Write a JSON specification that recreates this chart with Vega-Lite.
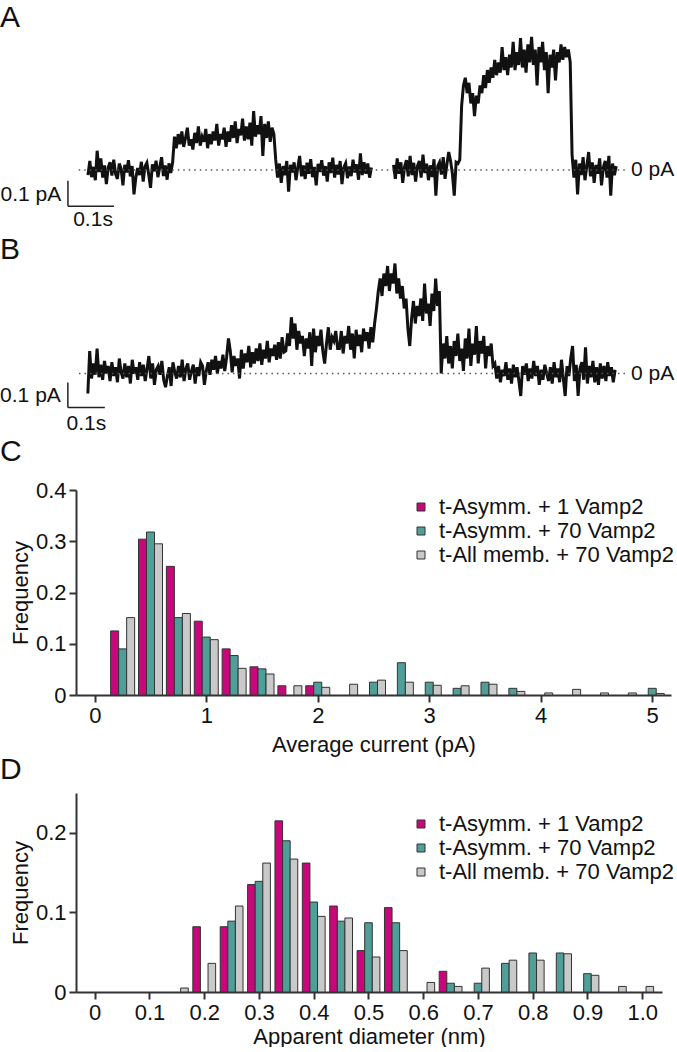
{
"$schema": "https://vega.github.io/schema/vega-lite/v6.json",
"padding": {"left": 0, "top": 2, "right": 0, "bottom": 0},
"spacing": 0,
"config": {
  "font": "Liberation Sans",
  "view": {"stroke": null},
  "title": {"fontSize": 30, "fontWeight": "normal", "anchor": "start", "frame": "group", "color": "#111", "font": "Liberation Sans"},
  "axis": {"grid": false, "domainColor": "#333", "domainWidth": 2, "tickColor": "#333", "tickWidth": 2, "tickSize": 7, "labelFontSize": 22, "labelColor": "#111", "labelFont": "Liberation Sans", "titleFontSize": 22, "titleFontWeight": "normal", "titleColor": "#111", "titleFont": "Liberation Sans", "labelPadding": 3, "titlePadding": 3}
},
"resolve": {"scale": {"color": "independent"}, "legend": {"color": "independent"}},
"vconcat": [
{
  "title": {"text": "A", "dx": -76, "offset": -2},
  "width": 595, "height": 198,
  "layer": [
    {
      "data": {"values": [
        {"seg": "A1",
         "t": [0,4,8,12,16,20,24,28,32,36,40,44,48,52,56,60,64,68,72,76,80,84,88,92,96,100,104,108,112,116,120,124,128,132,136,140,144,148,152,156,160,164,168,172,176,180,184,188,192,196,200,204,208,212,216,220,224,228,232,236,240,244,248,252,256,260,264,268,272,276,280,284,288,292,296,300,304,308,312,316,320,324,328,332,336,340,344,348,352,356,360,364,368,372,376,380,384,388,392,396,400,404,408,412,416,420,424,428,432,436,440,444,448,452,456,460,464,468,472,476,480,484,488,492,496,500,504,508,512,516,520,524,528,532,536,540,544,548,552,556,560,564,568,572,576,580,584,588,592,596,600,604,608,612,616],
         "fA": [-20,35,-28,12,-40,75,-8,45,-30,18,-55,10,30,-22,40,-15,-35,25,5,-60,20,-10,38,-25,15,-95,-30,8,-20,32,-45,14,28,-18,-70,22,-5,36,-28,12,50,-24,18,-38,26,-12,30,
                130,85,140,100,150,90,125,165,95,120,80,145,105,170,95,130,110,160,85,140,100,150,115,180,95,140,120,165,90,150,110,175,125,190,105,160,135,200,115,170,120,185,95,230,130,175,140,210,55,180,125,190,110,165,140,
                40,-30,25,-50,15,-20,35,-85,20,-10,30,-40,10,55,-25,18,-35,28,-15,42,-28,12,-60,24,-8,38,-22,15,-45,30,-12,48,-30,20,-18,35,-55,10,26,-32,14,-24,40,-10,22,-38,65,-20,30,-15,25,-30,10]},
        {"seg": "A2",
         "t": [664,668,672,676,680,684,688,692,696,700,704,708,712,716,720,724,728,732,736,740,744,748,752,756,760,764,768,772,776,780,784,788,792,796,800,804,808,812,816,820,824,828,832,836,840,844,848,852,856,860,864,868,872,876,880,884,888,892,896,900,904,908,912,916,920,924,928,932,936,940,944,948,952,956,960,964,968,972,976,980,984,988,992,996,1000,1004,1008,1012,1016,1020,1024,1028,1032,1036,1040,1044,1048,1052,1056,1060,1064,1068,1072,1076,1080,1084,1088,1092,1096,1100,1104,1108,1112,1116,1120,1124,1128,1132,1136,1140,1144,1148],
         "fA": [20,-35,45,-15,30,-50,12,38,-25,55,-20,28,-45,15,35,-30,60,-12,25,-40,18,-28,42,-100,15,30,-18,50,-35,22,70,35,-15,-100,30,25,
                40,250,330,360,300,340,260,300,210,290,260,330,300,370,320,390,340,400,360,430,370,420,380,480,390,440,370,450,400,500,390,460,410,515,400,470,380,490,420,520,410,470,330,480,420,500,390,460,300,450,400,470,350,460,420,490,430,480,440,470,420,
                60,-30,40,-95,25,-20,50,-40,15,70,-25,30,-50,20,-15,45,-60,10,35,-30,55,-100,25,-20,15]}
      ]},
      "transform": [{"flatten": ["t", "fA"]}],
      "mark": {"type": "line", "color": "#111", "strokeWidth": 3},
      "encoding": {
        "x": {"field": "t", "type": "quantitative", "scale": {"domain": [-26, 1267], "nice": false, "zero": false}, "axis": null},
        "y": {"field": "fA", "type": "quantitative", "scale": {"domain": [-250, 523], "nice": false, "zero": false}, "axis": null},
        "detail": {"field": "seg"}
      }
    },
    {
      "data": {"values": [{"t0": -20, "t1": 1170, "v": 0}]},
      "mark": {"type": "rule", "color": "#555", "strokeWidth": 1.5, "strokeDash": [1.5, 4]},
      "encoding": {"x": {"field": "t0", "type": "quantitative"}, "x2": {"field": "t1"}, "y": {"field": "v", "type": "quantitative"}}
    },
    {
      "data": {"values": [{"t0": -43.5, "t1": -43.5, "v0": -142, "v1": -42}, {"t0": -43.5, "t1": 56.5, "v0": -142, "v1": -142}]},
      "mark": {"type": "rule", "color": "#222", "strokeWidth": 1.5},
      "encoding": {"x": {"field": "t0", "type": "quantitative"}, "x2": {"field": "t1"}, "y": {"field": "v0", "type": "quantitative"}, "y2": {"field": "v1"}}
    },
    {
      "data": {"values": [{"t": 1180, "v": 0, "label": "0 pA", "al": "left"}, {"t": -58, "v": -96, "label": "0.1 pA", "al": "right"}]},
      "mark": {"type": "text", "fontSize": 21, "color": "#111", "baseline": "middle", "align": {"expr": "datum.al"}},
      "encoding": {"x": {"field": "t", "type": "quantitative"}, "y": {"field": "v", "type": "quantitative"}, "text": {"field": "label"}}
    },
    {
      "data": {"values": [{"t": 11, "v": -195, "label": "0.1s"}]},
      "mark": {"type": "text", "fontSize": 21, "color": "#111", "baseline": "middle", "align": "center"},
      "encoding": {"x": {"field": "t", "type": "quantitative"}, "y": {"field": "v", "type": "quantitative"}, "text": {"field": "label"}}
    }
  ]
},
{
  "title": {"text": "B", "dx": -76, "offset": -7},
  "width": 595, "height": 175,
  "layer": [
    {
      "data": {"values": [
        {"seg": "B1",
         "t": [0,5,10,15,20,25,30,35,40,45,50,55,60,65,70,75,80,85,90,95,100,105,110,115,120,125,130,135,140,145,150,155,160,165,170,175,180,185,190,195,200,205,210,215,220,225,230,235,240,245,250,255,260,265,270,275,280,285,290,295,300,305,310,315,320,325,330,335,340,345,350,355,360,365,370,375,380,385,390,395,400,405,410,415,420,425,430,435,440,445,450,455,460,465,470,475,480,485,490,495,500,505,510,515,520,525,530,535,540,545,550,555,560,565,570,575,580,585,590,595,600,605,610,615,620,625,630,635,640,645,650,655,660,665,670,675,680,685,690,695,700,705,710,715,720,725,730,735,740,745,750,755,760,765,770,775,780,785,790,795,800,805,810,815,820,825,830,835,840,845,850,855,860,865,870,875,880,885,890,895,900,905,910,915,920,925,930,935,940,945,950,955,960,965,970,975,980,985,990,995,1000,1005,1010,1015,1020,1025,1030,1035,1040,1045,1050,1055,1060,1065,1070,1075,1080,1085,1090,1095,1100,1105,1110,1115,1120,1125,1130,1135,1140,1145,1150,1155,1160,1165,1170,1175,1180,1185,1190,1195,1200,1205,1210,1215,1220,1225,1230,1235,1240,1245,1250,1255,1260,1265,1270,1275,1280,1285,1290,1295,1300,1305,1310,1315,1320,1325,1330,1335,1340,1345,1350,1355,1360,1365,1370,1375,1380,1385,1390,1395,1400,1405,1410,1415,1420,1425],
         "fA": [-80,90,-20,40,-5,100,-15,35,-25,50,0,30,-30,45,-10,25,-35,60,5,-20,40,-15,30,-40,55,0,25,-25,45,-10,35,-30,20,70,-20,40,-45,15,30,-5,50,-25,-55,-10,25,-50,45,5,-20,30,-15,55,-30,20,40,-25,10,35,-40,25,-10,45,
                30,-45,10,45,-5,55,15,70,0,50,20,75,10,65,140,90,5,70,30,60,-20,95,20,80,45,110,25,85,40,100,50,120,35,95,60,130,45,100,70,115,55,125,60,145,85,
                90,160,110,225,140,200,95,170,120,150,70,140,100,165,30,180,85,150,110,175,90,40,120,185,95,145,130,170,100,
                100,170,80,150,120,190,95,160,60,175,110,155,85,180,130,165,100,185,125,200,
                260,330,380,310,400,350,430,330,400,360,440,320,380,300,350,260,300,180,
                110,220,290,200,270,230,300,210,360,240,280,190,320,250,380,270,330,
                0,120,60,150,40,110,20,130,70,160,50,100,10,140,60,180,30,120,75,190,40,130,80,150,20,110,70,120,30,
                40,-20,30,-35,15,-10,45,-25,20,-40,35,-15,25,-30,-90,30,-5,40,-30,20,-20,50,-10,30,-45,15,-25,35,0,-30,25,-40,45,-15,20,-35,55,-20,-90,30,-10,60,110,-30,35,-90,20,45,-25,105,-40,30,-15,50,-35,25,-45,40,-20,30,-30,45,-10,25,-35,15]}
      ]},
      "transform": [{"flatten": ["t", "fA"]}],
      "mark": {"type": "line", "color": "#111", "strokeWidth": 3},
      "encoding": {
        "x": {"field": "t", "type": "quantitative", "scale": {"domain": [-32, 1576], "nice": false, "zero": false}, "axis": null},
        "y": {"field": "fA", "type": "quantitative", "scale": {"domain": [-254, 446], "nice": false, "zero": false}, "axis": null},
        "detail": {"field": "seg"}
      }
    },
    {
      "data": {"values": [{"t0": -24, "t1": 1454, "v": 0}]},
      "mark": {"type": "rule", "color": "#555", "strokeWidth": 1.5, "strokeDash": [1.5, 4]},
      "encoding": {"x": {"field": "t0", "type": "quantitative"}, "x2": {"field": "t1"}, "y": {"field": "v", "type": "quantitative"}}
    },
    {
      "data": {"values": [{"t0": -54, "t1": -54, "v0": -136, "v1": -36}, {"t0": -54, "t1": 46, "v0": -136, "v1": -136}]},
      "mark": {"type": "rule", "color": "#222", "strokeWidth": 1.5},
      "encoding": {"x": {"field": "t0", "type": "quantitative"}, "x2": {"field": "t1"}, "y": {"field": "v0", "type": "quantitative"}, "y2": {"field": "v1"}}
    },
    {
      "data": {"values": [{"t": 1468, "v": 0, "label": "0 pA", "al": "left"}, {"t": -73, "v": -89, "label": "0.1 pA", "al": "right"}]},
      "mark": {"type": "text", "fontSize": 21, "color": "#111", "baseline": "middle", "align": {"expr": "datum.al"}},
      "encoding": {"x": {"field": "t", "type": "quantitative"}, "y": {"field": "v", "type": "quantitative"}, "text": {"field": "label"}}
    },
    {
      "data": {"values": [{"t": -4, "v": -201, "label": "0.1s"}]},
      "mark": {"type": "text", "fontSize": 21, "color": "#111", "baseline": "middle", "align": "center"},
      "encoding": {"x": {"field": "t", "type": "quantitative"}, "y": {"field": "v", "type": "quantitative"}, "text": {"field": "label"}}
    }
  ]
},
{
  "title": {"text": "C", "dx": -76, "offset": 12},
  "width": 595, "height": 205,
  "data": {"values": [
    {"current": 0.25, "group": "t-Asymm. + 1 Vamp2", "freq": 0.125},
    {"current": 0.25, "group": "t-Asymm. + 70 Vamp2", "freq": 0.090},
    {"current": 0.25, "group": "t-All memb. + 70 Vamp2", "freq": 0.151},
    {"current": 0.5, "group": "t-Asymm. + 1 Vamp2", "freq": 0.304},
    {"current": 0.5, "group": "t-Asymm. + 70 Vamp2", "freq": 0.318},
    {"current": 0.5, "group": "t-All memb. + 70 Vamp2", "freq": 0.295},
    {"current": 0.75, "group": "t-Asymm. + 1 Vamp2", "freq": 0.251},
    {"current": 0.75, "group": "t-Asymm. + 70 Vamp2", "freq": 0.151},
    {"current": 0.75, "group": "t-All memb. + 70 Vamp2", "freq": 0.159},
    {"current": 1.0, "group": "t-Asymm. + 1 Vamp2", "freq": 0.144},
    {"current": 1.0, "group": "t-Asymm. + 70 Vamp2", "freq": 0.113},
    {"current": 1.0, "group": "t-All memb. + 70 Vamp2", "freq": 0.108},
    {"current": 1.25, "group": "t-Asymm. + 1 Vamp2", "freq": 0.090},
    {"current": 1.25, "group": "t-Asymm. + 70 Vamp2", "freq": 0.077},
    {"current": 1.25, "group": "t-All memb. + 70 Vamp2", "freq": 0.052},
    {"current": 1.5, "group": "t-Asymm. + 1 Vamp2", "freq": 0.055},
    {"current": 1.5, "group": "t-Asymm. + 70 Vamp2", "freq": 0.051},
    {"current": 1.5, "group": "t-All memb. + 70 Vamp2", "freq": 0.041},
    {"current": 1.75, "group": "t-Asymm. + 1 Vamp2", "freq": 0.018},
    {"current": 1.75, "group": "t-All memb. + 70 Vamp2", "freq": 0.018},
    {"current": 2.0, "group": "t-Asymm. + 1 Vamp2", "freq": 0.018},
    {"current": 2.0, "group": "t-Asymm. + 70 Vamp2", "freq": 0.025},
    {"current": 2.0, "group": "t-All memb. + 70 Vamp2", "freq": 0.015},
    {"current": 2.25, "group": "t-All memb. + 70 Vamp2", "freq": 0.021},
    {"current": 2.5, "group": "t-Asymm. + 70 Vamp2", "freq": 0.025},
    {"current": 2.5, "group": "t-All memb. + 70 Vamp2", "freq": 0.029},
    {"current": 2.75, "group": "t-Asymm. + 70 Vamp2", "freq": 0.063},
    {"current": 2.75, "group": "t-All memb. + 70 Vamp2", "freq": 0.025},
    {"current": 3.0, "group": "t-Asymm. + 70 Vamp2", "freq": 0.025},
    {"current": 3.0, "group": "t-All memb. + 70 Vamp2", "freq": 0.019},
    {"current": 3.25, "group": "t-Asymm. + 70 Vamp2", "freq": 0.013},
    {"current": 3.25, "group": "t-All memb. + 70 Vamp2", "freq": 0.018},
    {"current": 3.5, "group": "t-Asymm. + 70 Vamp2", "freq": 0.025},
    {"current": 3.5, "group": "t-All memb. + 70 Vamp2", "freq": 0.021},
    {"current": 3.75, "group": "t-Asymm. + 70 Vamp2", "freq": 0.013},
    {"current": 3.75, "group": "t-All memb. + 70 Vamp2", "freq": 0.007},
    {"current": 4.0, "group": "t-All memb. + 70 Vamp2", "freq": 0.004},
    {"current": 4.25, "group": "t-All memb. + 70 Vamp2", "freq": 0.011},
    {"current": 4.5, "group": "t-All memb. + 70 Vamp2", "freq": 0.004},
    {"current": 4.75, "group": "t-All memb. + 70 Vamp2", "freq": 0.004},
    {"current": 5.0, "group": "t-Asymm. + 70 Vamp2", "freq": 0.013},
    {"current": 5.0, "group": "t-All memb. + 70 Vamp2", "freq": 0.003}
  ]},
  "encoding": {
    "x": {"field": "current", "type": "quantitative", "scale": {"domain": [-0.1235, 5.1235], "nice": false, "zero": false}, "axis": {"values": [0, 1, 2, 3, 4, 5], "title": "Average current (pA)", "titlePadding": 8}},
    "y": {"field": "freq", "type": "quantitative", "scale": {"domain": [0, 0.4], "nice": false}, "axis": {"values": [0, 0.1, 0.2, 0.3, 0.4], "format": "~g", "title": "Frequency"}},
    "color": {"field": "group", "type": "nominal",
      "scale": {"domain": ["t-Asymm. + 1 Vamp2", "t-Asymm. + 70 Vamp2", "t-All memb. + 70 Vamp2"], "range": ["#C8087A", "#4F9E98", "#C9C9C9"]},
      "legend": {"title": null, "orient": "none", "legendX": 334, "legendY": 6, "symbolType": "square", "symbolSize": 64, "symbolStrokeColor": "#333", "symbolStrokeWidth": 1, "symbolOpacity": 1, "labelFontSize": 22, "labelColor": "#111", "labelFont": "Liberation Sans", "labelOffset": 7, "labelLimit": 400, "rowPadding": 2}}
  },
  "layer": [
    {"transform": [{"filter": "datum.group == 't-Asymm. + 1 Vamp2'"}], "mark": {"type": "bar", "width": 8, "xOffset": -8, "stroke": "#333", "strokeWidth": 1}},
    {"transform": [{"filter": "datum.group == 't-Asymm. + 70 Vamp2'"}], "mark": {"type": "bar", "width": 8, "xOffset": 0, "stroke": "#333", "strokeWidth": 1}},
    {"transform": [{"filter": "datum.group == 't-All memb. + 70 Vamp2'"}], "mark": {"type": "bar", "width": 8, "xOffset": 8, "stroke": "#333", "strokeWidth": 1}}
  ]
},
{
  "title": {"text": "D", "dx": -76, "offset": 8},
  "width": 586, "height": 199,
  "data": {"values": [
    {"diameter": 0.15, "group": "t-All memb. + 70 Vamp2", "freq": 0.005},
    {"diameter": 0.2, "group": "t-Asymm. + 1 Vamp2", "freq": 0.082},
    {"diameter": 0.2, "group": "t-All memb. + 70 Vamp2", "freq": 0.036},
    {"diameter": 0.25, "group": "t-Asymm. + 1 Vamp2", "freq": 0.082},
    {"diameter": 0.25, "group": "t-Asymm. + 70 Vamp2", "freq": 0.089},
    {"diameter": 0.25, "group": "t-All memb. + 70 Vamp2", "freq": 0.108},
    {"diameter": 0.3, "group": "t-Asymm. + 1 Vamp2", "freq": 0.135},
    {"diameter": 0.3, "group": "t-Asymm. + 70 Vamp2", "freq": 0.139},
    {"diameter": 0.3, "group": "t-All memb. + 70 Vamp2", "freq": 0.162},
    {"diameter": 0.35, "group": "t-Asymm. + 1 Vamp2", "freq": 0.215},
    {"diameter": 0.35, "group": "t-Asymm. + 70 Vamp2", "freq": 0.190},
    {"diameter": 0.35, "group": "t-All memb. + 70 Vamp2", "freq": 0.167},
    {"diameter": 0.4, "group": "t-Asymm. + 1 Vamp2", "freq": 0.162},
    {"diameter": 0.4, "group": "t-Asymm. + 70 Vamp2", "freq": 0.113},
    {"diameter": 0.4, "group": "t-All memb. + 70 Vamp2", "freq": 0.095},
    {"diameter": 0.45, "group": "t-Asymm. + 1 Vamp2", "freq": 0.108},
    {"diameter": 0.45, "group": "t-Asymm. + 70 Vamp2", "freq": 0.089},
    {"diameter": 0.45, "group": "t-All memb. + 70 Vamp2", "freq": 0.093},
    {"diameter": 0.5, "group": "t-Asymm. + 1 Vamp2", "freq": 0.052},
    {"diameter": 0.5, "group": "t-Asymm. + 70 Vamp2", "freq": 0.087},
    {"diameter": 0.5, "group": "t-All memb. + 70 Vamp2", "freq": 0.044},
    {"diameter": 0.55, "group": "t-Asymm. + 1 Vamp2", "freq": 0.106},
    {"diameter": 0.55, "group": "t-Asymm. + 70 Vamp2", "freq": 0.087},
    {"diameter": 0.55, "group": "t-All memb. + 70 Vamp2", "freq": 0.052},
    {"diameter": 0.6, "group": "t-All memb. + 70 Vamp2", "freq": 0.012},
    {"diameter": 0.65, "group": "t-Asymm. + 1 Vamp2", "freq": 0.026},
    {"diameter": 0.65, "group": "t-Asymm. + 70 Vamp2", "freq": 0.011},
    {"diameter": 0.65, "group": "t-All memb. + 70 Vamp2", "freq": 0.007},
    {"diameter": 0.7, "group": "t-Asymm. + 70 Vamp2", "freq": 0.011},
    {"diameter": 0.7, "group": "t-All memb. + 70 Vamp2", "freq": 0.030},
    {"diameter": 0.75, "group": "t-Asymm. + 70 Vamp2", "freq": 0.036},
    {"diameter": 0.75, "group": "t-All memb. + 70 Vamp2", "freq": 0.040},
    {"diameter": 0.8, "group": "t-Asymm. + 70 Vamp2", "freq": 0.049},
    {"diameter": 0.8, "group": "t-All memb. + 70 Vamp2", "freq": 0.040},
    {"diameter": 0.85, "group": "t-Asymm. + 70 Vamp2", "freq": 0.049},
    {"diameter": 0.85, "group": "t-All memb. + 70 Vamp2", "freq": 0.048},
    {"diameter": 0.9, "group": "t-Asymm. + 70 Vamp2", "freq": 0.023},
    {"diameter": 0.9, "group": "t-All memb. + 70 Vamp2", "freq": 0.021},
    {"diameter": 0.95, "group": "t-All memb. + 70 Vamp2", "freq": 0.007},
    {"diameter": 1.0, "group": "t-All memb. + 70 Vamp2", "freq": 0.007}
  ]},
  "encoding": {
    "x": {"field": "diameter", "type": "quantitative", "scale": {"domain": [-0.0251, 1.027], "nice": false, "zero": false}, "axis": {"values": [0, 0.1, 0.2, 0.3, 0.4, 0.5, 0.6, 0.7, 0.8, 0.9, 1.0], "labelExpr": "datum.value == 0 ? '0' : format(datum.value, '.1f')", "title": "Apparent diameter (nm)"}},
    "y": {"field": "freq", "type": "quantitative", "scale": {"domain": [0, 0.25], "nice": false}, "axis": {"values": [0, 0.1, 0.2], "format": "~g", "title": "Frequency"}},
    "color": {"field": "group", "type": "nominal",
      "scale": {"domain": ["t-Asymm. + 1 Vamp2", "t-Asymm. + 70 Vamp2", "t-All memb. + 70 Vamp2"], "range": ["#C8087A", "#4F9E98", "#C9C9C9"]},
      "legend": {"title": null, "orient": "none", "legendX": 334, "legendY": 20, "symbolType": "square", "symbolSize": 64, "symbolStrokeColor": "#333", "symbolStrokeWidth": 1, "symbolOpacity": 1, "labelFontSize": 22, "labelColor": "#111", "labelFont": "Liberation Sans", "labelOffset": 7, "labelLimit": 400, "rowPadding": 2}}
  },
  "layer": [
    {"transform": [{"filter": "datum.group == 't-Asymm. + 1 Vamp2'"}], "mark": {"type": "bar", "width": 7.6, "xOffset": -7.6, "stroke": "#333", "strokeWidth": 1}},
    {"transform": [{"filter": "datum.group == 't-Asymm. + 70 Vamp2'"}], "mark": {"type": "bar", "width": 7.6, "xOffset": 0, "stroke": "#333", "strokeWidth": 1}},
    {"transform": [{"filter": "datum.group == 't-All memb. + 70 Vamp2'"}], "mark": {"type": "bar", "width": 7.6, "xOffset": 7.6, "stroke": "#333", "strokeWidth": 1}}
  ]
}
]
}
